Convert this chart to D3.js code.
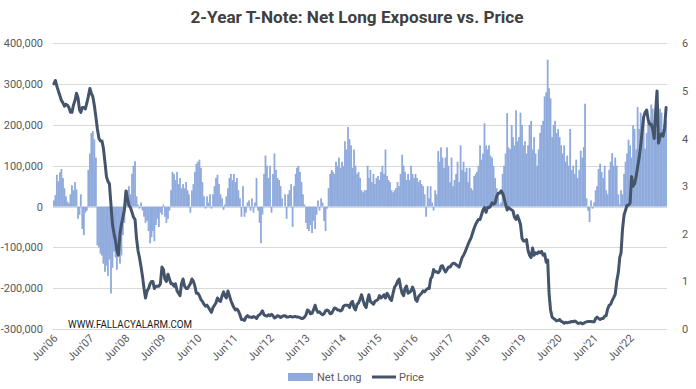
<!DOCTYPE html>
<html>
<head>
  <meta charset="utf-8">
  <title>2-Year T-Note: Net Long Exposure vs. Price</title>
  <style type="text/css">
    body {
      margin: 0;
      background: #ffffff;
    }
    text {
      font-family: Roboto, "Liberation Sans", sans-serif;
    }
    .grid line {
      stroke: #d9d9d9;
      stroke-width: 1px;
    }
    .axis text {
      fill: #595959;
      font-size: 11px;
    }
    .net-long {
      fill: #8faadc;
    }
    .price-line {
      fill: none;
      stroke: #44546a;
      stroke-width: 3px;
      stroke-linejoin: round;
      stroke-linecap: round;
    }
  </style>
</head>
<body>
  <div id="chart"></div>
  <script src="https://d3js.org/d3.v7.min.js"></script>
  <script>

    var width = 696,
        height = 389,
        plotLeft = 53,
        plotRight = 667,
        plotTop = 43.3,
        plotBottom = 329;

    //  Two readings a month (1st and 16th), first one is 1 Jun 2006
    //  Net long position, thousands of contracts
    var netLong = [
      // 2006 Jun-Dec
      15, 28, 78, 62, 84, 92, 70, 45, 25, 12, 8, 30, 52, 40,
      // 2007
      60, 42, -30, -20, 30, -55, -70, -15, -10, 90, 130, 180, 185, 165, 120, -95, -100, -115, -120, -140, -160, -145, -170, -130,
      // 2008
      -213, -150, -110, -125, -155, -110, -140, -120, -70, -40, 15, 40, 50, 30, 80, 100, 111, 25, 5, -5, 10, -10, -25, -40,
      // 2009
      -35, -60, -90, -75, -60, -85, -45, -30, -50, -15, -20, 5, -25, -40, -30, -10, 40, 85, 80, 65, 85, 55, 70, 45,
      // 2010
      55, 45, 60, 40, 30, -15, 40, 55, 85, 105, 110, 115, 95, 60, 25, -5, 25, 10, 30, -5, 30, 50, 70, 78,
      // 2011
      55, 30, 20, -8, 5, 25, 45, 70, 80, 65, 80, 60, 70, 40, 20, -25, 50, -25, -15, 10, 15, -10, 20, -15,
      // 2012
      10, 70, -10, -40, -90, -20, 80, 125, 100, 70, 100, -15, 80, 130, 90, 70, 65, 50, 20, 0, 30, -30, 30, 40,
      // 2013
      55, -50, 50, 80, 95, 100, 85, 60, 30, 5, -40, -55, -60, -45, -65, -35, -55, -20, 15, -10, 20, 10, -35, -60,
      // 2014
      -5, 45, 80, 90, 85, 80, 110, 100, 120, 95, 110, 100, 160, 140, 195, 165, 150, 95, 140, 100, 80, 85, 70, 40,
      // 2015
      35, 40, 40, 100, 70, 90, 60, 80, 55, 70, 75, 65, 85, 100, 80, 140, 75, 65, 60, 40, 35, 40, 45, 60,
      // 2016
      50, 80, 127, 100, 85, 65, 80, 65, 100, 80, 70, 80, 70, 60, 65, 55, 50, 30, -25, 50, 20, 50, 10, -10,
      // 2017
      40, 30, 136, 110, 145, 120, 95, 120, 145, 100, 60, 120, 50, 65, 80, 110, 60, 150, 90, 110, 85, 95, 60, 95,
      // 2018
      45, 40, 75, 80, 85, 100, 150, 115, 130, 204, 150, 140, 150, 125, 120, 100, 70, 45, 25, 5, 10, 80, 100, 130,
      // 2019
      229, 145, 140, 200, 170, 150, 236, 160, 170, 230, 200, 150, 160, 130, 150, 200, 210, 140, 170, 130, 100, 140, 180, 200,
      // 2020
      210, 270, 280, 360, 290, 265, 170, 200, 210, 180, 190, 170, 150, 130, 150, 110, 125, 100, 190, 90, 100, 80, 115, 70,
      // 2021
      90, 137, 120, 146, 252, 20, -10, -38, 15, -5, 10, 40, 50, 92, 105, 85, 70, 100, 40, 30, 90, 110, 131, 100,
      // 2022
      120, 100, 30, 5, 40, 30, 80, 110, 130, 164, 150, 120, 199, 190, 140, 244, 190, 230, 200, 220, 142, 180, 213, 200,
      // 2023 Jan-Jun
      250, 240, 210, 190, 180, 230, 240, 230, 190, 200, 210
    ];

    //  Price (right axis), same dates
    var price = [
      // 2006 Jun-Dec
      5.15, 5.22, 5.10, 5.00, 4.90, 4.80, 4.75, 4.68, 4.72, 4.70, 4.65, 4.55, 4.55, 4.70,
      // 2007
      4.80, 4.95, 4.85, 4.60, 4.55, 4.65, 4.65, 4.62, 4.75, 4.88, 5.05, 4.95, 4.88, 4.70, 4.45, 4.20, 4.00, 3.95, 3.95, 3.80, 3.50, 3.20, 3.10, 3.05,
      // 2008
      2.60, 2.20, 2.00, 1.85, 1.65, 1.55, 2.00, 2.20, 2.35, 2.50, 2.90, 2.75, 2.60, 2.55, 2.45, 2.35, 2.30, 1.90, 1.65, 1.50, 1.30, 1.10, 0.85, 0.65,
      // 2009
      0.80, 0.85, 0.95, 1.00, 1.00, 0.85, 0.90, 0.90, 0.90, 0.95, 1.30, 1.25, 1.05, 1.00, 1.15, 1.05, 0.95, 0.95, 0.90, 0.95, 0.80, 0.75, 0.70, 0.95,
      // 2010
      1.05, 0.90, 0.85, 0.85, 0.90, 0.95, 1.05, 1.00, 0.90, 0.75, 0.75, 0.70, 0.62, 0.58, 0.52, 0.48, 0.50, 0.45, 0.40, 0.35, 0.45, 0.50, 0.55, 0.65,
      // 2011
      0.60, 0.58, 0.70, 0.78, 0.70, 0.65, 0.80, 0.70, 0.60, 0.52, 0.45, 0.40, 0.42, 0.38, 0.30, 0.20, 0.20, 0.18, 0.25, 0.28, 0.25, 0.25, 0.24, 0.26,
      // 2012
      0.25, 0.22, 0.28, 0.30, 0.33, 0.38, 0.30, 0.28, 0.27, 0.30, 0.28, 0.31, 0.28, 0.23, 0.25, 0.28, 0.27, 0.24, 0.26, 0.28, 0.28, 0.25, 0.25, 0.26,
      // 2013
      0.26, 0.25, 0.26, 0.26, 0.25, 0.25, 0.24, 0.22, 0.22, 0.25, 0.30, 0.40, 0.38, 0.32, 0.33, 0.40, 0.50, 0.40, 0.35, 0.36, 0.32, 0.30, 0.32, 0.38,
      // 2014
      0.40, 0.38, 0.32, 0.33, 0.38, 0.44, 0.43, 0.40, 0.40, 0.38, 0.40, 0.48, 0.50, 0.50, 0.50, 0.45, 0.55, 0.58, 0.45, 0.40, 0.52, 0.55, 0.62, 0.72,
      // 2015
      0.60, 0.50, 0.45, 0.62, 0.72, 0.58, 0.55, 0.52, 0.58, 0.60, 0.62, 0.70, 0.65, 0.68, 0.72, 0.65, 0.75, 0.70, 0.63, 0.60, 0.75, 0.88, 0.92, 1.00,
      // 2016
      1.05, 0.88, 0.75, 0.70, 0.85, 0.90, 0.75, 0.77, 0.80, 0.88, 0.80, 0.62, 0.58, 0.68, 0.72, 0.75, 0.80, 0.78, 0.82, 0.85, 0.85, 1.05, 1.10, 1.25,
      // 2017
      1.20, 1.20, 1.18, 1.22, 1.32, 1.33, 1.25, 1.20, 1.25, 1.30, 1.30, 1.35, 1.38, 1.38, 1.35, 1.33, 1.30, 1.40, 1.50, 1.55, 1.62, 1.70, 1.78, 1.85,
      // 2018
      1.92, 2.02, 2.12, 2.20, 2.25, 2.30, 2.30, 2.40, 2.50, 2.55, 2.45, 2.55, 2.55, 2.58, 2.65, 2.62, 2.65, 2.78, 2.85, 2.85, 2.90, 2.85, 2.75, 2.62,
      // 2019
      2.50, 2.55, 2.52, 2.50, 2.48, 2.35, 2.30, 2.38, 2.30, 2.20, 1.90, 1.85, 1.85, 1.88, 1.65, 1.55, 1.50, 1.70, 1.55, 1.60, 1.58, 1.62, 1.60, 1.63,
      // 2020
      1.55, 1.58, 1.40, 1.45, 0.75, 0.40, 0.25, 0.22, 0.20, 0.17, 0.18, 0.20, 0.16, 0.15, 0.12, 0.14, 0.13, 0.14, 0.14, 0.16, 0.15, 0.17, 0.15, 0.12,
      // 2021
      0.12, 0.13, 0.11, 0.12, 0.14, 0.15, 0.16, 0.16, 0.16, 0.15, 0.15, 0.22, 0.25, 0.22, 0.20, 0.22, 0.22, 0.27, 0.28, 0.42, 0.50, 0.52, 0.60, 0.66,
      // 2022
      0.73, 1.00, 1.18, 1.50, 1.60, 2.10, 2.40, 2.50, 2.60, 2.60, 2.65, 3.20, 3.00, 3.05, 3.20, 3.40, 3.60, 3.85, 4.15, 4.45, 4.55, 4.60, 4.40, 4.30,
      // 2023 Jan-Jun
      4.30, 4.20, 4.00, 4.60, 5.00, 3.90, 4.05, 4.10, 4.05, 4.20, 4.65
    ];

    var leftTicks = [-300, -200, -100, 0, 100, 200, 300, 400];   // thousands
    var rightTicks = [0, 1, 2, 3, 4, 5, 6];
    var xTickLabels = ["Jun'06", "Jun'07", "Jun'08", "Jun'09", "Jun'10", "Jun'11", "Jun'12", "Jun'13",
                       "Jun'14", "Jun'15", "Jun'16", "Jun'17", "Jun'18", "Jun'19", "Jun'20", "Jun'21", "Jun'22"];
    var seriesNames = ["Net Long", "Price"];
    var chartTitle = "2-Year T-Note: Net Long Exposure vs. Price";
    var watermark = "WWW.FALLACYALARM.COM";

    //  date of each reading: 1st and 16th of every month from Jun 2006
    var dates = netLong.map(function (d, i) {
      return new Date(2006, 5 + Math.floor(i / 2), i % 2 ? 16 : 1);
    });
    var tickDates = xTickLabels.map(function (d, i) { return new Date(2006 + i, 5, 1); });

    function drawChart() {
      var svg = d3.select("#chart").append("svg")
          .attr("width", width)
          .attr("height", height);

      var x = d3.scaleTime()
          .domain([dates[0], dates[dates.length - 1]])
          .range([plotLeft + 0.9, plotRight - 0.9]);
      var yLeft = d3.scaleLinear().domain([-300, 400]).range([plotBottom, plotTop]);
      var yRight = d3.scaleLinear().domain([0, 6]).range([plotBottom, plotTop]);

      //  horizontal gridlines
      svg.append("g").attr("class", "grid")
        .selectAll("line")
        .data(leftTicks)
        .enter().append("line")
          .attr("x1", plotLeft)
          .attr("x2", plotRight)
          .attr("y1", function (d) { return Math.round(yLeft(d)) + 0.5; })
          .attr("y2", function (d) { return Math.round(yLeft(d)) + 0.5; });

      //  net long bars
      var bw = 1.8;
      svg.append("g")
        .selectAll("rect")
        .data(netLong)
        .enter().append("rect")
          .attr("class", "net-long")
          .attr("x", function (d, i) { return x(dates[i]) - bw / 2; })
          .attr("width", bw)
          .attr("y", function (d) { return Math.min(yLeft(d), yLeft(0)); })
          .attr("height", function (d) { return Math.abs(yLeft(d) - yLeft(0)); });

      //  price line
      var line = d3.line()
          .x(function (d, i) { return x(dates[i]); })
          .y(function (d) { return yRight(d); });
      svg.append("path")
          .datum(price)
          .attr("class", "price-line")
          .attr("d", line);

      //  left axis (plain hyphen for the minus sign, like the original)
      var leftAxis = d3.axisLeft(yLeft)
          .tickValues(leftTicks)
          .tickSize(0)
          .tickPadding(10)
          .tickFormat(function (d) { return d3.format(",")(d * 1000).replace("\u2212", "-"); });
      svg.append("g").attr("class", "axis")
          .attr("transform", "translate(" + plotLeft + ",0)")
          .call(leftAxis)
          .call(function (g) { g.select(".domain").remove(); });

      //  right axis
      var rightAxis = d3.axisRight(yRight)
          .tickValues(rightTicks)
          .tickSize(0)
          .tickPadding(15)
          .tickFormat(d3.format("d"));
      svg.append("g").attr("class", "axis")
          .attr("transform", "translate(" + plotRight + ",0)")
          .call(rightAxis)
          .call(function (g) { g.select(".domain").remove(); });

      //  bottom axis, labels turned 45 degrees
      var bottomAxis = d3.axisBottom(x)
          .tickValues(tickDates)
          .tickSize(0)
          .tickFormat(function (d, i) { return xTickLabels[i]; });
      svg.append("g").attr("class", "axis")
          .attr("transform", "translate(0," + plotBottom + ")")
          .call(bottomAxis)
          .call(function (g) { g.select(".domain").remove(); })
          .selectAll("text")
            .attr("text-anchor", "end")
            .attr("dy", null)
            .attr("y", 0)
            .attr("transform", function () { return "translate(4,10) rotate(-45)"; });

      //  title
      svg.append("text")
          .attr("x", 357)
          .attr("y", 23)
          .attr("text-anchor", "middle")
          .attr("textLength", 333)
          .attr("lengthAdjust", "spacingAndGlyphs")
          .style("font-size", "17px")
          .style("font-weight", "bold")
          .style("fill", "#404040")
          .text(chartTitle);

      //  watermark
      svg.append("text")
          .attr("x", 68)
          .attr("y", 328)
          .attr("textLength", 124)
          .attr("lengthAdjust", "spacingAndGlyphs")
          .style("font-size", "10px")
          .style("fill", "#1a1a1a")
          .text(watermark);

      //  legend
      var legend = svg.append("g").style("font-size", "11px").style("fill", "#595959");
      legend.append("rect")
          .attr("x", 288).attr("y", 373)
          .attr("width", 25).attr("height", 8)
          .attr("class", "net-long");
      legend.append("text")
          .attr("x", 317).attr("y", 381)
          .text(seriesNames[0]);
      legend.append("line")
          .attr("x1", 372).attr("x2", 396)
          .attr("y1", 377).attr("y2", 377)
          .attr("class", "price-line")
          .style("stroke-linecap", "butt");
      legend.append("text")
          .attr("x", 399).attr("y", 381)
          .text(seriesNames[1]);
    }
    drawChart();
  </script>
</body>
</html>
